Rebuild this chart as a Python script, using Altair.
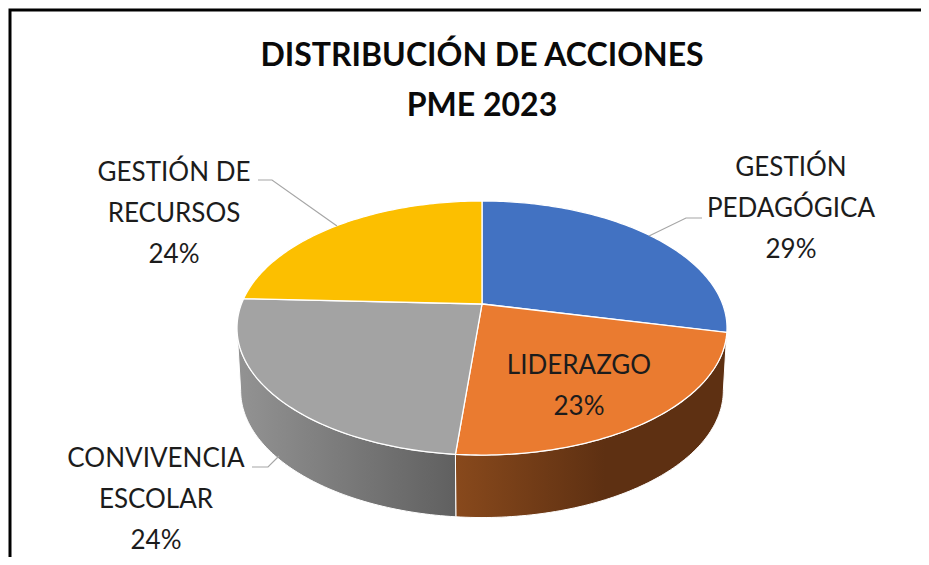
import math
import altair as alt

# ---- chart values ----
names = ["GESTIÓN PEDAGÓGICA", "LIDERAZGO", "CONVIVENCIA ESCOLAR", "GESTIÓN DE RECURSOS"]
acciones = [20, 16, 17, 17]
colores = ["#4272c2", "#ea7b30", "#a3a3a3", "#fcbf00"]

title_lines = ["DISTRIBUCIÓN DE ACCIONES", "PME 2023"]
label_text = ["GESTIÓN", "PEDAGÓGICA", "29%", "LIDERAZGO", "23%",
              "CONVIVENCIA", "ESCOLAR", "24%", "GESTIÓN DE", "RECURSOS", "24%"]
label_x = [791, 791, 791, 579, 579, 156, 156, 156, 174, 174, 174]
label_y = [168, 209, 250, 366, 407, 459, 500, 541, 173, 214, 255]

leaders = [
    [(702, 218), (686, 218), (649, 236)],
    [(252, 467), (268, 467), (279, 456)],
    [(258, 180), (272, 180), (337, 226)],
]
frame_line = [(10, 557), (10, 10), (921, 10)]

# pie geometry (page pixels): centre, radii, perspective, wall depth
CX, CY, RX, RY, PERSP, DEPTH = 482.0, 304.0, 240.6, 122.5, 0.189, 62.5
OFF = 8  # page margin


def top_pt(t):
    d = 1 + PERSP * math.cos(t)
    return (CX + RX * math.sin(t) / d - OFF, CY - RY * math.cos(t) / d - OFF)


def low_pt(t):
    x, y = top_pt(t)
    return (CX - OFF + (x - (CX - OFF)) * 0.985, y + DEPTH)


def arc(t0, t1, f, step=math.radians(1.0)):
    n = max(2, int(abs(t1 - t0) / step) + 1)
    return [f(t0 + (t1 - t0) * i / n) for i in range(n + 1)]


def poly(pts, **props):
    pts = [list(p) for p in pts]
    if pts[0] != pts[-1]:
        pts.append(pts[0])
    return {"type": "Feature", "properties": props,
            "geometry": {"type": "Polygon", "coordinates": [pts]}}


def line(pts):
    return {"type": "Feature", "properties": {},
            "geometry": {"type": "LineString",
                         "coordinates": [[x - OFF, y - OFF] for x, y in pts]}}


total = sum(acciones)
edges = [0.0]
for v in acciones:
    edges.append(edges[-1] + v / total * 2 * math.pi)

slices = [
    poly([(CX - OFF, CY - OFF)] + arc(edges[i], edges[i + 1], top_pt), name=names[i])
    for i in range(len(names))
]

# visible wall limits: where the ellipse's horizontal extreme lies
t_right = math.acos(-PERSP)
t_left = 2 * math.pi - t_right
t_split = edges[2]
wall_orange = poly(arc(t_right, t_split, top_pt) + arc(t_split, t_right, low_pt), name="o")
wall_gray = poly(arc(t_split, t_left, top_pt) + arc(t_left, t_split, low_pt), name="g")

proj = dict(type="identity", scale=1, translate=[0, 0])


def grad(stops):
    return alt.Gradient(
        gradient="linear", x1=0, x2=1, y1=0, y2=0,
        stops=[alt.GradientStop(color=c, offset=o) for c, o in stops],
    )


frame_ch = alt.Chart(alt.Data(values=[line(frame_line)])).mark_geoshape(
    filled=False, stroke="#000000", strokeWidth=3).project(**proj)
leader_ch = alt.Chart(alt.Data(values=[line(p) for p in leaders])).mark_geoshape(
    filled=False, stroke="#a6a6a6", strokeWidth=1.2).project(**proj)
wall_o = alt.Chart(alt.Data(values=[wall_orange])).mark_geoshape(
    fill=grad([("#88491c", 0), ("#5e3012", 0.55), ("#5e3012", 1)]),
    stroke="#ffffff", strokeWidth=1).project(**proj)
wall_g = alt.Chart(alt.Data(values=[wall_gray])).mark_geoshape(
    fill=grad([("#939393", 0), ("#606060", 1)]),
    stroke="#ffffff", strokeWidth=1).project(**proj)
top_ch = alt.Chart(alt.Data(values=slices)).mark_geoshape(
    stroke="#ffffff", strokeWidth=1.3).encode(
    color=alt.Color("properties.name:N", legend=None,
                    scale=alt.Scale(domain=names, range=colores))
).project(**proj)

lab_data = [{"t": t, "lon": x - OFF, "lat": y - OFF}
            for t, x, y in zip(label_text, label_x, label_y)]
lab_ch = alt.Chart(alt.Data(values=lab_data)).mark_text(
    font="Lato", fontSize=26, color="#1c1c1c", align="center", baseline="middle"
).encode(longitude="lon:Q", latitude="lat:Q", text="t:N").project(**proj)

chart = alt.layer(frame_ch, wall_o, wall_g, top_ch, leader_ch, lab_ch).properties(
    width=913, height=549,
    padding=0,
    autosize=alt.AutoSizeParams(type="none"),
    title=alt.TitleParams(
        text=title_lines, font="Lato", fontSize=32, fontWeight="bold", color="#0a0a0a",
        anchor="start", align="center", dx=474, offset=-115, lineHeight=50,
    ),
).configure_view(stroke=None)

chart.save("out.html", embed_options={"renderer": "svg", "actions": False})
